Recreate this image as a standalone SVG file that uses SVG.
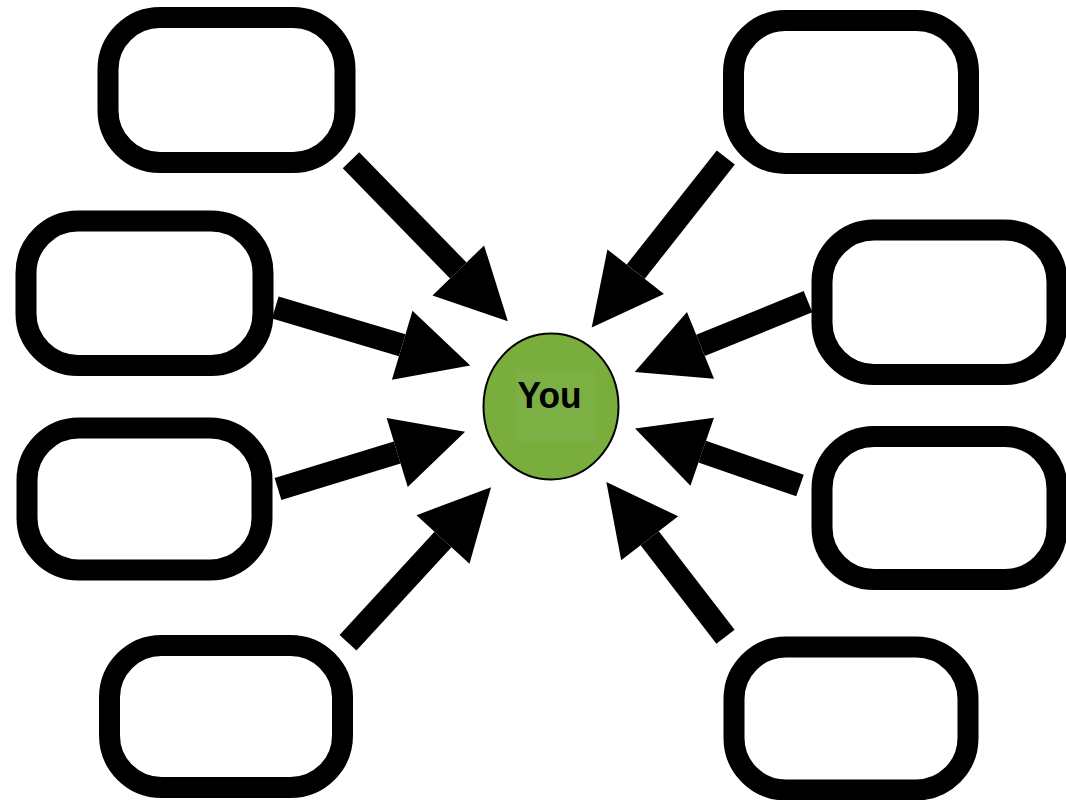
<svg xmlns="http://www.w3.org/2000/svg" width="1066" height="800" viewBox="0 0 1066 800">
<style>
.box{fill:#ffffff;stroke:#000000;stroke-width:21}
.conn{stroke:#000000;stroke-width:23;fill:none;marker-end:url(#head)}
.lbl{font-family:"Liberation Sans",Arial,sans-serif;font-weight:bold;font-size:37px;fill:#000000}
</style>
<defs>
<marker id="head" markerUnits="userSpaceOnUse" markerWidth="72" markerHeight="72" viewBox="0 -36 72 72" refX="0" refY="0" orient="auto" overflow="visible">
<path d="M0,-36 L71,0 L0,36 Z" fill="#000000"/>
</marker>
</defs>
<rect width="1066" height="800" fill="#ffffff"/>
<g id="box-tl"><rect class="box" x="108" y="17.5" width="237" height="145" rx="52"/></g>
<g id="box-l2"><rect class="box" x="26" y="221" width="237" height="144.5" rx="52"/></g>
<g id="box-l3"><rect class="box" x="27" y="428" width="235" height="142" rx="52"/></g>
<g id="box-bl"><rect class="box" x="109.5" y="645.5" width="233" height="142" rx="52"/></g>
<g id="box-tr"><rect class="box" x="733.5" y="20.5" width="235" height="143" rx="52"/></g>
<g id="box-r2"><rect class="box" x="822" y="230" width="235" height="144.5" rx="52"/></g>
<g id="box-r3"><rect class="box" x="822" y="436.5" width="235" height="143" rx="52"/></g>
<g id="box-br"><rect class="box" x="734" y="647" width="234" height="143" rx="52"/></g>
<g id="connectors">
<line class="conn" x1="351" y1="160.3" x2="458.3" y2="270.5"/>
<line class="conn" x1="275.3" y1="307.5" x2="402.2" y2="345.3"/>
<line class="conn" x1="278" y1="489" x2="397.2" y2="452.5"/>
<line class="conn" x1="348" y1="642.8" x2="443" y2="539.5"/>
<line class="conn" x1="725.8" y1="157.5" x2="635.7" y2="271.7"/>
<line class="conn" x1="808" y1="301.7" x2="700.5" y2="345.3"/>
<line class="conn" x1="800" y1="485.5" x2="702.2" y2="451.7"/>
<line class="conn" x1="725.5" y1="636.7" x2="649.7" y2="538.3"/>
</g>
<g id="you">
<ellipse cx="551" cy="406.5" rx="67.5" ry="73" fill="#79ad3c" stroke="#000000" stroke-width="2"/>
<rect x="516" y="371" width="79" height="71" fill="#7cb045"/>
<text class="lbl" x="549.5" y="407.5" text-anchor="middle" textLength="64" lengthAdjust="spacingAndGlyphs">You</text>
</g>
</svg>
